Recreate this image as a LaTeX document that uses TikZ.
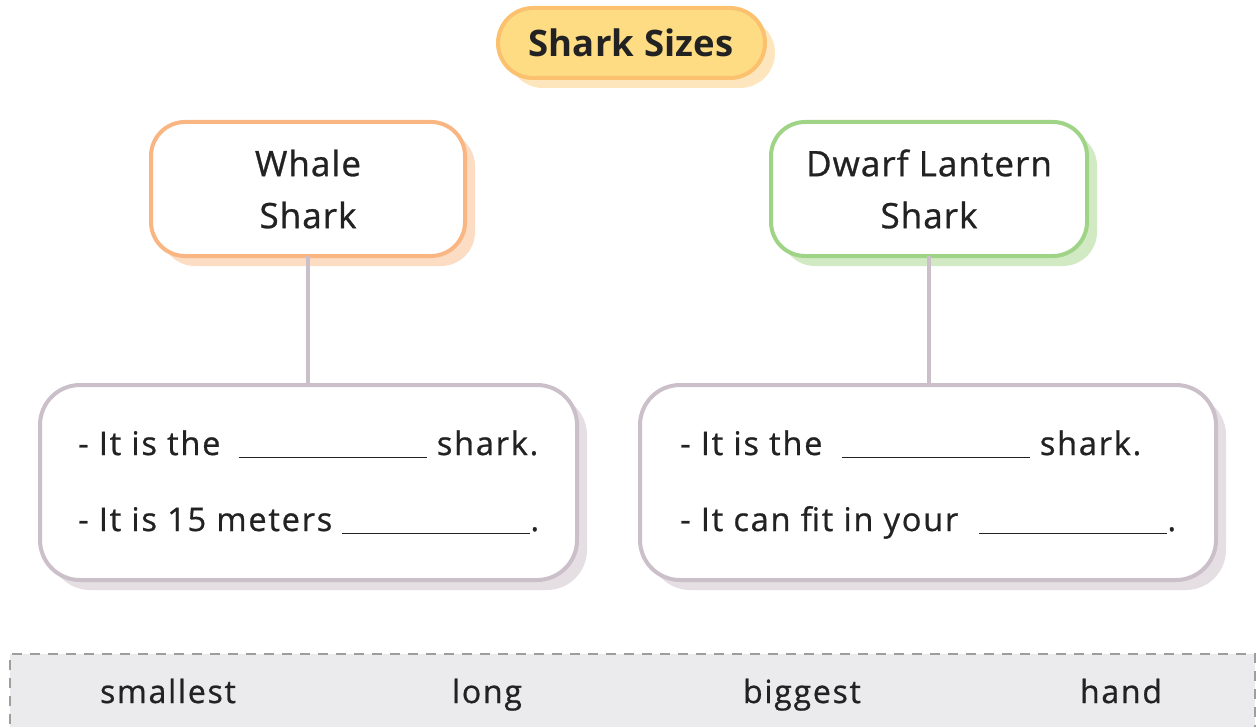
\documentclass[tikz,border=0pt]{standalone}
\usepackage{fontspec}
\setmainfont{Open Sans}[LetterSpace=3]
\newfontfamily\bodyfont{Open Sans}[LetterSpace=5.5, FakeBold=0.8]
\newfontfamily\namefont{Open Sans}[LetterSpace=3, FakeBold=0.8]
\newfontfamily\titlefont{Open Sans Bold}[LetterSpace=0.5]
\newcommand{\blankline}[1]{\raisebox{-3pt}{\rule{#1}{1.3pt}}}
\definecolor{titlefill}{HTML}{FDDC84}
\definecolor{titledraw}{HTML}{FBC16E}
\definecolor{titleshadow}{HTML}{FDE6BE}
\definecolor{orangedraw}{HTML}{F9B682}
\definecolor{orangeshadow}{HTML}{FCDCC2}
\definecolor{greendraw}{HTML}{9FD386}
\definecolor{greenshadow}{HTML}{D2EAC4}
\definecolor{greydraw}{HTML}{CBC0CA}
\definecolor{greyshadow}{HTML}{E5DFE4}
\definecolor{bankfill}{HTML}{EBEBED}
\definecolor{bankdraw}{HTML}{9E9E9E}
\definecolor{ink}{HTML}{222222}
\begin{document}
\begin{tikzpicture}[x=1pt,y=-1pt,
  titlebox/.style={rounded corners=35pt, line width=4pt, draw=titledraw, fill=titlefill},
  namebox/.style={rounded corners=34pt, line width=4pt, fill=white},
  infobox/.style={rounded corners=40pt, line width=4pt, draw=greydraw, fill=white},
  link/.style={line width=4pt, draw=greydraw},
  lbl/.style={inner sep=0pt, text=ink, font=\namefont\fontsize{35}{52}\selectfont, align=center},
  ttl/.style={inner sep=0pt, text=ink, font=\titlefont\fontsize{36.5}{42}\selectfont},
  line/.style={inner sep=0pt, anchor=base west, text=ink, font=\bodyfont\fontsize{32.5}{36}\selectfont},
  word/.style={inner sep=0pt, anchor=base, text=ink, font=\bodyfont\fontsize{32}{36}\selectfont}]
\useasboundingbox (0,0) rectangle (1257,727);
% title
\fill[titleshadow, rounded corners=35pt] (508,18) rectangle (775,88);
\draw[titlebox] (498,8) rectangle (765,78);
\node[ttl] (title) at (631,43) {Shark Sizes};
% name boxes
\fill[orangeshadow, rounded corners=34pt] (161,132) rectangle (475,266);
\draw[namebox, draw=orangedraw] (151,122) rectangle (465,256);
\node[lbl] (whale) at (308,189) {Whale\\Shark};
\fill[greenshadow, rounded corners=34pt] (781,132) rectangle (1097,266);
\draw[namebox, draw=greendraw] (771,122) rectangle (1087,256);
\node[lbl] (dwarf) at (929,189) {Dwarf Lantern\\Shark};
% connectors
\coordinate (wtop) at (308,256);
\coordinate (wbot) at (308,385);
\coordinate (dtop) at (929,256);
\coordinate (dbot) at (929,385);
\draw[link] (wtop) -- (wbot);
\draw[link] (dtop) -- (dbot);
% info boxes
\fill[greyshadow, rounded corners=40pt] (50,395) rectangle (587,590);
\draw[infobox] (40,385) rectangle (577,580);
\fill[greyshadow, rounded corners=40pt] (650,395) rectangle (1226,590);
\draw[infobox] (640,385) rectangle (1216,580);
\node[line] (l1) at (78,455) {- It is the\hspace{8pt} \blankline{188pt} shark.};
\node[line] (l2) at (78,531) {- It is 15 meters \blankline{188pt}.};
\node[line] (r1) at (680,455) {- It is the\hspace{9pt} \blankline{188pt} shark.};
\node[line] (r2) at (680,531) {- It can fit in your\hspace{11pt} \blankline{188pt}.};
% word bank
\draw[fill=bankfill, draw=bankdraw, line width=1.2pt, dash pattern=on 10pt off 8pt] (10,760) -- (10,654) -- (1255,654) -- (1255,760);
\node[word] (w1) at (168,703) {smallest};
\node[word] (w2) at (487,703) {long};
\node[word] (w3) at (802,703) {biggest};
\node[word] (w4) at (1121,703) {hand};
\end{tikzpicture}
\end{document}
